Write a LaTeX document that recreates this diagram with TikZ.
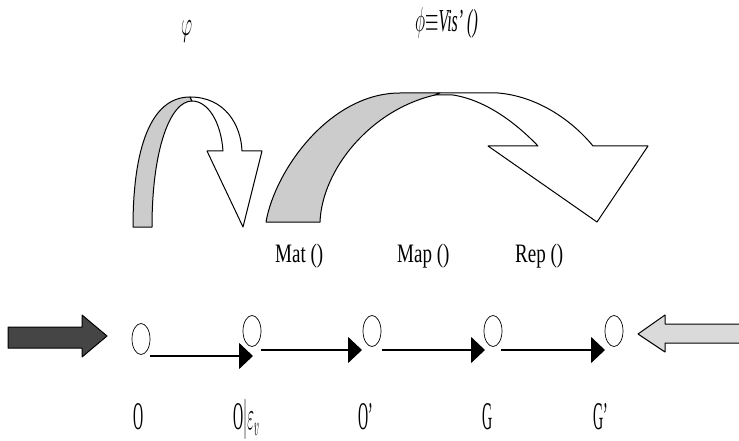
\documentclass[tikz,border=0pt]{standalone}
\usepackage{fontspec}
\setmainfont{Liberation Serif}
\usetikzlibrary{arrows.meta,shapes.geometric}
\definecolor{bandgray}{HTML}{CCCCCC}
\definecolor{darkarrow}{HTML}{454545}
\definecolor{lightarrow}{HTML}{DADADA}
\begin{document}
\begin{tikzpicture}[x=1pt,y=-1pt,
  state/.style={draw, ellipse, minimum width=18pt, minimum height=31pt, inner sep=0pt, line width=0.7pt},
  flow/.style={line width=1.6pt, -{Triangle[length=14pt,width=26pt]}},
  lbl/.style={inner sep=0pt, anchor=base west},
  shapeline/.style={draw=black, line width=1pt, line join=round}]
\useasboundingbox[fill=white] (0,0) rectangle (739,441);

% top labels
\node[lbl] (phi1) at (181,36) {\scalebox{1}[2]{\fontsize{18}{18}\selectfont$\varphi$}};
\node[lbl] (phi2) at (415,32) {\scalebox{1}[2]{\fontsize{16}{16}\selectfont$\phi{\equiv}$\textit{Vis’ ()}}};

% small curved arrow
\filldraw[shapeline, fill=bandgray] (133,227) .. controls (133,150) and (150,97) .. (190,97)
  -- (192,101) .. controls (170,101) and (152,150) .. (152,227) -- cycle;
\filldraw[shapeline, fill=white] (190,97) .. controls (225,97) and (241,125) .. (242,151)
  -- (262,151) -- (243,227) -- (207,151) -- (223,151)
  .. controls (221,122) and (208,101) .. (192,101) -- cycle;

% big curved arrow
\filldraw[shapeline, fill=bandgray] (266,222) .. controls (275,170) and (330,93) .. (400,93)
  -- (440,93) -- (435,95) .. controls (370,110) and (322,170) .. (320,222) -- cycle;
\filldraw[shapeline, fill=white] (440,93) -- (498,93) .. controls (535,96) and (570,118) .. (593,146)
  -- (648,146) -- (597,222) -- (488,146) -- (538,146)
  .. controls (515,122) and (485,100) .. (453,95) -- (435,95) -- cycle;

% method labels
\node[lbl] (mat) at (275,262) {\scalebox{1}[1.4]{\fontsize{19}{19}\selectfont Mat ()}};
\node[lbl] (map) at (397,262) {\scalebox{1}[1.4]{\fontsize{19}{19}\selectfont Map ()}};
\node[lbl] (rep) at (515,262) {\scalebox{1}[1.4]{\fontsize{19}{19}\selectfont Rep ()}};

% block arrows
\filldraw[shapeline, fill=darkarrow] (8,327) -- (82,327) -- (82,315) -- (107,336) -- (82,357) -- (82,348) -- (8,348) -- cycle;
\fill[lightarrow] (739,324) -- (665,324) -- (665,315) -- (638,334) -- (665,352) -- (665,343) -- (739,343) -- cycle;
\draw[shapeline] (739,324) -- (665,324) -- (665,315) -- (638,334) -- (665,352) -- (665,343) -- (739,343);

% states
\node[state] (n1) at (141,339) {};
\node[state] (n2) at (252,331) {};
\node[state] (n3) at (372,331) {};
\node[state] (n4) at (493,331) {};
\node[state] (n5) at (614,331) {};

% connector ends
\coordinate (s1) at (150,356); \coordinate (e1) at (253,356);
\coordinate (s2) at (261,350); \coordinate (e2) at (362,350);
\coordinate (s3) at (382,350); \coordinate (e3) at (485,350);
\coordinate (s4) at (501,350); \coordinate (e4) at (605,350);
\draw[flow] (s1) -- (e1);
\draw[flow] (s2) -- (e2);
\draw[flow] (s3) -- (e3);
\draw[flow] (s4) -- (e4);

% bottom labels
\node[lbl] (l1) at (133,429) {\scalebox{1}[2.8]{\fontsize{14}{14}\selectfont O}};
\node[lbl] (l2) at (233,429) {\scalebox{1}[2.8]{\fontsize{14}{14}\selectfont O$|\varepsilon_v$}};
\node[lbl] (l3) at (358,429) {\scalebox{1}[2.8]{\fontsize{14}{14}\selectfont O’}};
\node[lbl] (l4) at (482,429) {\scalebox{1}[2.8]{\fontsize{14}{14}\selectfont G}};
\node[lbl] (l5) at (593,429) {\scalebox{1}[2.8]{\fontsize{14}{14}\selectfont G’}};
\end{tikzpicture}
\end{document}
